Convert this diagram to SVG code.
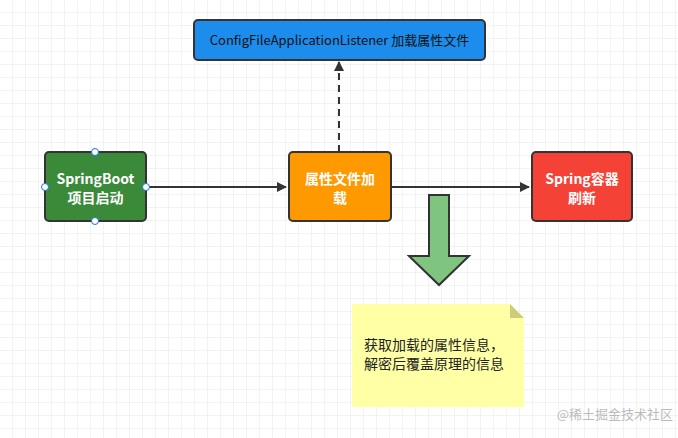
<svg xmlns="http://www.w3.org/2000/svg" width="678" height="438" viewBox="0 0 678 438">
<defs>
<pattern id="g" width="13" height="13" patternUnits="userSpaceOnUse"><path d="M13 0V13H0" fill="none" stroke="#e6e6e6" stroke-width="1"/></pattern>
<marker id="ah" markerWidth="10" markerHeight="10" refX="9" refY="5" orient="auto" markerUnits="userSpaceOnUse"><path d="M0 0L10 5L0 10Z" fill="#333"/></marker>
<style>
.n{stroke:#333;stroke-width:2}
.t{font-family:"Noto Sans CJK SC","Liberation Sans",sans-serif;font-size:14px;fill:#fff;font-weight:bold;text-anchor:middle}
.c{stroke:#333;stroke-width:2;fill:none}
.h{fill:#fff;stroke:#1a73e8;stroke-width:1}
</style>
</defs>
<rect width="678" height="438" fill="#fff"/>
<rect width="678" height="438" fill="url(#g)"/>
<g id="connectors">
<path class="c" d="M146 187H286" marker-end="url(#ah)"/>
<path class="c" d="M391 187H529" marker-end="url(#ah)"/>
<path class="c" d="M339 152V62" stroke-dasharray="7 5" marker-end="url(#ah)"/>
</g>
<g id="listener"><rect class="n" x="194" y="20" width="291" height="40" rx="4" fill="#1c8ded"/><text x="339.5" y="45" style="font-family:'Noto Sans CJK SC','Liberation Sans',sans-serif;font-size:13px;fill:#111;text-anchor:middle">ConfigFileApplicationListener 加载属性文件</text></g>
<g id="springboot"><rect class="n" x="45" y="152" width="101" height="69" rx="4" fill="#3a8a3a"/><text class="t" x="95.5" y="184">SpringBoot</text><text class="t" x="95.5" y="203">项目启动</text>
<circle class="h" cx="95" cy="152" r="3.5"/><circle class="h" cx="95" cy="221" r="3.5"/><circle class="h" cx="45" cy="187" r="3.5"/><circle class="h" cx="146" cy="187" r="3.5"/></g>
<g id="load"><rect class="n" x="289" y="152" width="102" height="69" rx="4" fill="#ff9900"/><text class="t" x="340" y="184">属性文件加</text><text class="t" x="340" y="203">载</text></g>
<g id="refresh"><rect class="n" x="532" y="152" width="100" height="69" rx="4" fill="#f44336"/><text class="t" x="582" y="184">Spring容器</text><text class="t" x="582" y="203">刷新</text></g>
<g id="bigarrow"><path class="n" d="M429 195H449V256H469L439 285L409 256H429Z" fill="#7fc47f"/></g>
<g id="note"><path d="M352 304H510L524 318V407H352Z" fill="#ffffa6"/><path d="M510 304L524 318H510Z" fill="#cccc7a"/>
<text x="364" y="350" style="font-family:'Noto Sans CJK SC',sans-serif;font-size:14px;fill:#222">获取加载的属性信息，</text>
<text x="364" y="369" style="font-family:'Noto Sans CJK SC',sans-serif;font-size:14px;fill:#222">解密后覆盖原理的信息</text></g>
<text x="673" y="419" style="font-family:'Noto Sans CJK SC',sans-serif;font-size:13px;fill:#bbb;text-anchor:end">@稀土掘金技术社区</text>
</svg>
